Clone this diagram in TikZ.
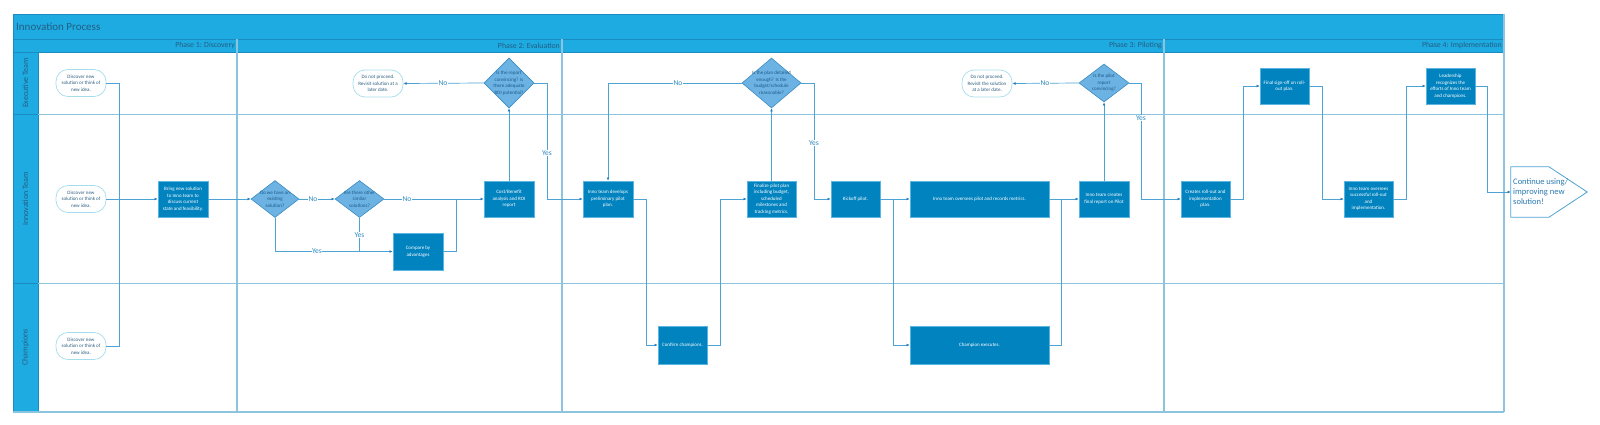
\documentclass[tikz,border=0pt]{standalone}
\usepackage{fontspec}
\setmainfont{Carlito}
\usetikzlibrary{shapes.geometric,arrows.meta,calc}
\definecolor{hdr}{HTML}{1EABE2}
\definecolor{hdredge}{HTML}{1A8CC2}
\definecolor{hdrtext}{HTML}{235E82}
\definecolor{laneline}{HTML}{8CC4DE}
\definecolor{boxfill}{HTML}{0083BF}
\definecolor{boxedge}{HTML}{5BB5E0}
\definecolor{diafill}{HTML}{6CB2E2}
\definecolor{diaedge}{HTML}{3B8DC4}
\definecolor{diatext}{HTML}{1D5C8A}
\definecolor{termedge}{HTML}{A6DDED}
\definecolor{termtext}{HTML}{2D5E80}
\definecolor{lineclr}{HTML}{4DA3D4}
\definecolor{tipclr}{HTML}{1F7DBF}
\definecolor{lblclr}{HTML}{2E8BC0}
\definecolor{penttext}{HTML}{2A7AB0}
\begin{document}
\begin{tikzpicture}[x=1pt,y=-1pt,
  box/.style={rectangle, fill=boxfill, draw=boxedge, line width=0.6pt, text=white,
    font=\fontsize{5}{6.5}\selectfont, align=center, inner sep=0.5pt,
    minimum width=50, minimum height=36},
  dia/.style={diamond, fill=diafill, draw=diaedge, line width=0.6pt, inner sep=0pt},
  diatxt/.style={text=diatext, font=\fontsize{5}{6.5}\selectfont, align=center, inner sep=0pt},
  term/.style={rectangle, rounded corners=12pt, fill=white, draw=termedge, line width=0.7pt,
    text=termtext, font=\fontsize{5}{6.5}\selectfont, align=center,
    inner sep=0.5pt, minimum width=50, minimum height=27},
  conn/.style={draw=lineclr, line width=0.7pt},
  arr/.style={conn, -{Latex[length=3.2pt,width=2.8pt,color=tipclr]}},
  lbl/.style={fill=white, text=lblclr, font=\fontsize{7.5}{8}\selectfont, inner sep=0.6pt},
  phase/.style={anchor=east, text=hdrtext, font=\fontsize{7.8}{9}\selectfont, inner sep=0pt},
  lane/.style={rotate=90, text=hdrtext, font=\fontsize{8}{9}\selectfont, inner sep=0pt}
]
\useasboundingbox (0,0) rectangle (1600,425);
% frame
\fill[white] (38,52) rectangle (1504,412);
\filldraw[fill=hdr, draw=hdredge, line width=0.6pt] (13,14) rectangle (1504,39);
\filldraw[fill=hdr, draw=hdredge, line width=0.6pt] (13,39) rectangle (1504,52);
\filldraw[fill=hdr, draw=hdredge, line width=0.6pt] (13,52) rectangle (38,412);
\draw[hdredge, line width=0.6pt] (13,114) -- (38,114) (13,283) -- (38,283);
\draw[laneline, line width=0.8pt] (38,114) -- (1504,114) (38,283) -- (1504,283);
\draw[laneline, line width=1.2pt] (237,39) -- (237,412) (562,39) -- (562,412) (1164,39) -- (1164,412);
\draw[laneline, line width=1.2pt] (1504,14) -- (1504,412) (13,412) -- (1504,412);
\node[anchor=west, text=hdrtext, font=\fontsize{11}{12}\selectfont, inner sep=0pt] (title) at (16,26.5) {Innovation Process};
\node[phase] (ph1) at (235,45.5) {Phase 1: Discovery};
\node[phase] (ph2) at (560,45.5) {Phase 2: Evaluation};
\node[phase] (ph3) at (1162,45.5) {Phase 3: Piloting};
\node[phase] (ph4) at (1502,45.5) {Phase 4: Implementation};
\node[lane] (l1) at (25.5,83) {Executive Team};
\node[lane] (l2) at (25.5,199) {Innovation Team};
\node[lane] (l3) at (25.5,347.5) {Champions};

% nodes
\node[term] (t1) at (81,83) {Discover new\\solution or think of\\new idea.};
\node[term] (t2) at (81,199) {Discover new\\solution or think of\\new idea.};
\node[term] (t3) at (81,346) {Discover new\\solution or think of\\new idea.};
\node[box] (b1) at (183,199) {Bring new solution\\to Inno team to\\discuss current\\state and feasibility.};
\node[dia, minimum width=48, minimum height=37] (d1) at (275,199) {};
\node[diatxt] (d1t) at (d1) {Do we have an\\existing\\solution?};
\node[dia, minimum width=49, minimum height=37] (d2) at (359.5,199) {};
\node[diatxt] (d2t) at (d2) {Are there other\\similar\\solutions?};
\node[box] (b2) at (509,199) {Cost/Benefit\\analysis and ROI\\report};
\node[box, minimum height=37] (b3) at (418,251.5) {Compare by\\advantages};
\node[dia, minimum width=50, minimum height=50] (d3) at (509,83) {};
\node[diatxt] (d3t) at (d3) {Is the report\\convincing? Is\\there adequate\\ROI potential?};
\node[term] (t4) at (378,83.5) {Do not proceed.\\Revisit solution at a\\later date.};
\node[box] (b4) at (608,199) {Inno team develops\\preliminary pilot\\plan.};
\node[box, minimum width=49, minimum height=38] (b5) at (682.5,345) {Confirm champions.};
\node[box, minimum width=49] (b6) at (771.5,199) {Finalize pilot plan\\including budget,\\scheduled\\milestones and\\tracking metrics.};
\node[dia, minimum width=59, minimum height=50] (d4) at (771.5,83) {};
\node[diatxt] (d4t) at (d4) {Is the plan detailed\\enough? Is the\\budget/schedule\\reasonable?};
\node[box, minimum width=49] (b7) at (855.5,199) {Kickoff pilot.};
\node[box, minimum width=139] (b8) at (979.5,199) {Inno team oversees pilot and records metrics.};
\node[box, minimum width=139, minimum height=38] (b9) at (979.5,345) {Champion executes.};
\node[box] (b10) at (1104,199) {Inno team creates\\final report on Pilot};
\node[dia, minimum width=50, minimum height=38] (d5) at (1104,83) {};
\node[diatxt] (d5t) at (d5) {Is the pilot\\report\\convincing?};
\node[term] (t5) at (987,83.5) {Do not proceed.\\Revisit the solution\\at a later date.};
\node[box, minimum width=49] (b11) at (1205.5,199) {Creates roll-out and\\implementation\\plan.};
\node[box, minimum width=49] (b12) at (1284.5,86) {Final sign-off on roll-\\out plan.};
\node[box, minimum width=49] (b13) at (1368.5,199) {Inno team oversees\\successful roll-out\\and\\implementation.};
\node[box, minimum width=49] (b14) at (1450.5,86) {Leadership\\recognizes the\\efforts of Inno team\\and champions.};
\node[minimum width=76, minimum height=50, inner sep=0pt] (pent) at (1549,192) {};
\draw[lineclr, line width=0.8pt, fill=white] (pent.north west) -- (pent.north) -- (pent.east) -- (pent.south) -- (pent.south west) -- cycle;
\node[anchor=west, text=penttext, font=\fontsize{8.5}{10}\selectfont, align=left, inner sep=0pt] (pentt) at (1513,192) {Continue using/\\improving new\\solution!};

% connectors
\coordinate (j1) at (119,199);
\draw[conn] (t1.east) -| (j1);
\draw[conn] (t3.east) -| (j1);
\draw[arr] (t2.east) -- (b1.west);
\draw[arr] (b1.east) -- (d1.west);
\draw[arr] (d1.east) -- (d2.west);
\node[lbl] (n1) at (313,199) {No};
\draw[arr] (d2.east) -- (b2.west);
\node[lbl] (n2) at (407,199) {No};
\draw[arr] (d1.south) |- (b3.west);
\draw[conn] (d2.south) -- (d2.south |- b3.west);
\node[lbl] (y1) at (317,251.5) {Yes};
\node[lbl] (y2) at (359.5,235) {Yes};
\draw[conn] (b3.east) -- ++(13,0) -- ++(0,-52.5);
\draw[arr] (b2.north) -- (d3.south);
\draw[arr] (d3.west) -- (t4.east);
\node[lbl] (n3) at (443,83) {No};
\draw[arr] (d3.east) -- ++(13,0) |- (b4.west);
\node[lbl] (y3) at (547,153) {Yes};
\draw[arr] (b4.east) -- ++(13,0) |- (b5.west);
\draw[arr] (b5.east) -- ++(13.5,0) |- (b6.west);
\draw[arr] (b6.north) -- (d4.south);
\draw[arr] (d4.west) -| (b4.north);
\node[lbl] (n4) at (678,83) {No};
\draw[arr] (d4.east) -- ++(13,0) |- (b7.west);
\node[lbl] (y4) at (814,143) {Yes};
\draw[arr] (b7.east) -- (b8.west);
\draw[arr] (b7.east) -- ++(13,0) |- (b9.west);
\draw[arr] (b8.east) -- (b10.west);
\draw[conn] (b9.east) -- ++(12.5,0) -- ++(0,-146);
\draw[arr] (b10.north) -- (d5.south);
\draw[arr] (d5.west) -- (t5.east);
\node[lbl] (n5) at (1045,83) {No};
\draw[arr] (d5.east) -- ++(12,0) |- (b11.west);
\node[lbl] (y5) at (1141,118) {Yes};
\draw[arr] (b11.east) -- ++(13,0) |- (b12.west);
\draw[arr] (b12.east) -- ++(13,0) |- (b13.west);
\draw[arr] (b13.east) -- ++(13,0) |- (b14.west);
\draw[arr] (b14.east) -- ++(12,0) |- (pent.west);
\end{tikzpicture}
\end{document}
